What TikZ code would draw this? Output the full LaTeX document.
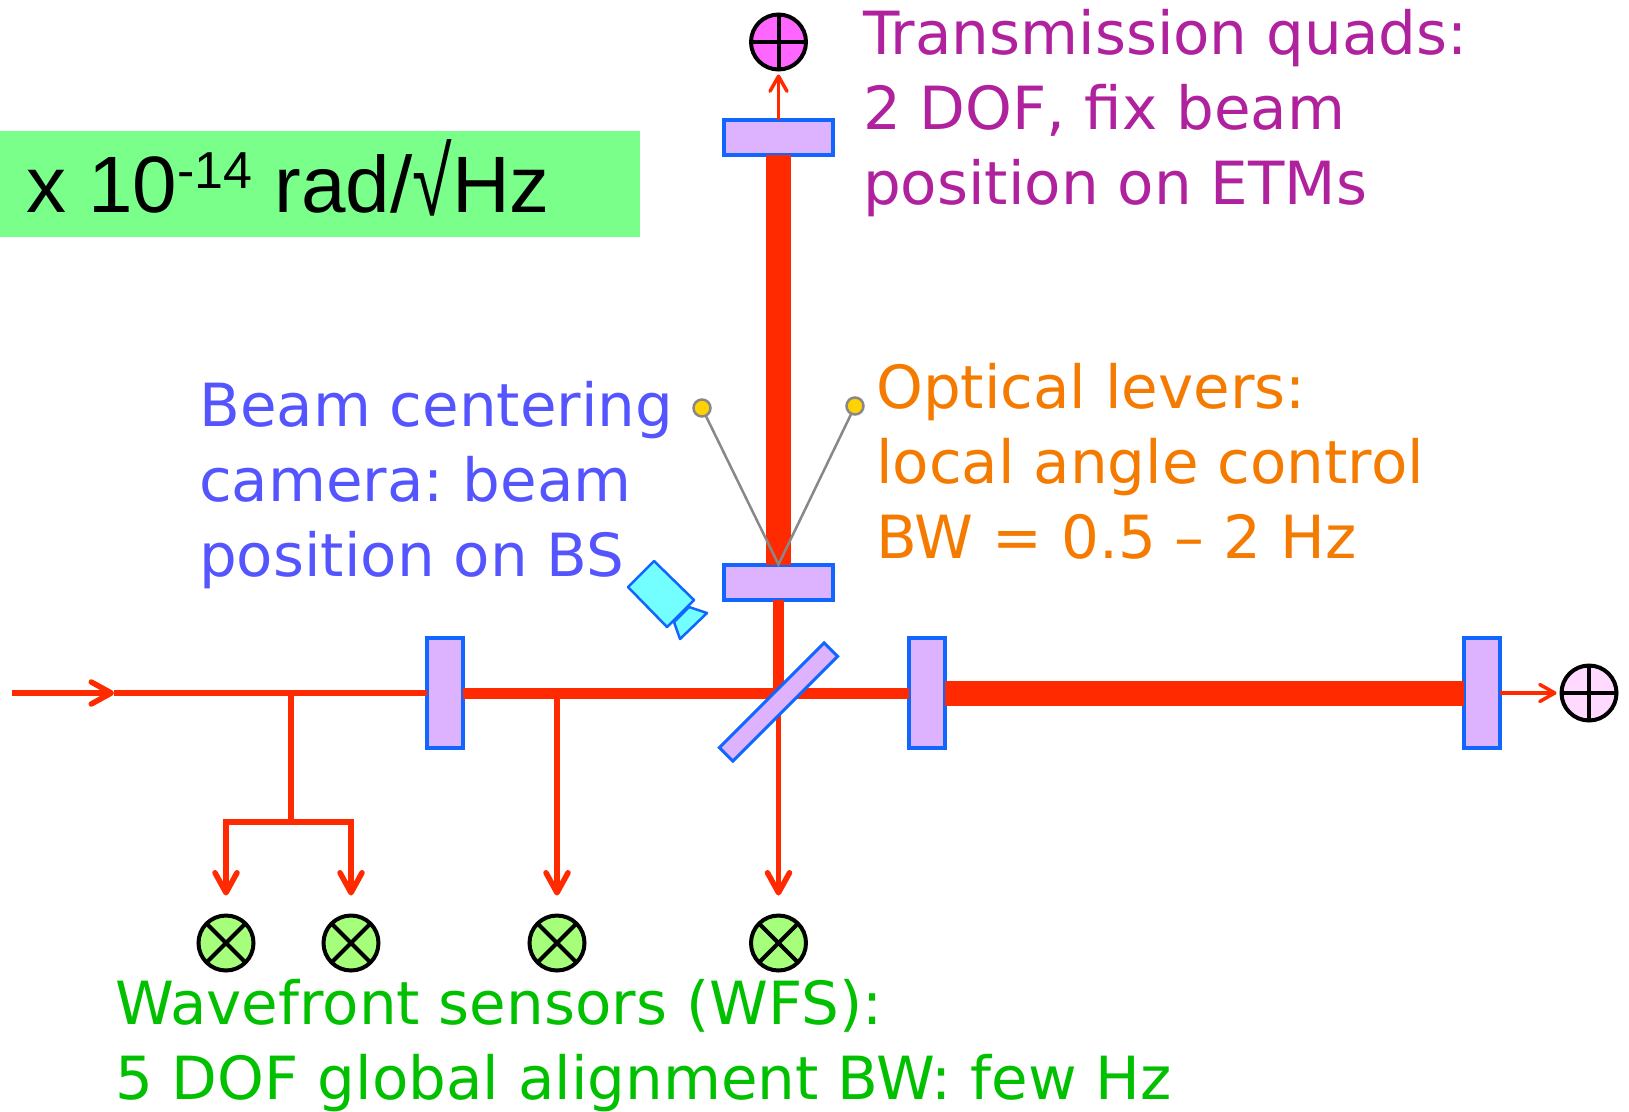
\documentclass[tikz,border=0pt]{standalone}
\usepackage{fontspec}
\usepackage{xcolor}
\usepackage{tikz}
\usetikzlibrary{arrows.meta}
\setmainfont{DejaVu Sans}
\newfontfamily\boxfont{Liberation Sans}
\definecolor{beamred}{HTML}{FF2A00}
\definecolor{edgeblue}{HTML}{1166FF}
\definecolor{mirrorfill}{HTML}{DDB3FF}
\definecolor{boxgreen}{HTML}{7AFF8A}
\definecolor{wfsfill}{HTML}{A6FF7A}
\definecolor{wfstext}{HTML}{00C000}
\definecolor{quadtext}{HTML}{B0219E}
\definecolor{camtext}{HTML}{5555FF}
\definecolor{levertext}{HTML}{F57A00}
\definecolor{camfill}{HTML}{73FFFF}
\definecolor{leverfill}{HTML}{FFD200}
\definecolor{leverline}{HTML}{888888}
\definecolor{quadyfill}{HTML}{FF66FF}
\definecolor{quadxfill}{HTML}{FFD9FF}

\begin{document}
\begin{tikzpicture}[
        x=1pt, y=-1pt,
        mirror/.style={rectangle, draw=edgeblue, fill=mirrorfill, line width=4pt, inner sep=0pt, outer sep=0pt},
        hmirror/.style={mirror, minimum width=109pt, minimum height=35pt},
        vmirror/.style={mirror, minimum width=36pt, minimum height=110pt},
        detector/.style={circle, draw=black, line width=4pt, minimum size=55pt, inner sep=0pt, outer sep=0pt},
        quad/.style={detector, path picture={
            \draw[line width=4pt] (path picture bounding box.north) -- (path picture bounding box.south);
            \draw[line width=4pt] (path picture bounding box.west) -- (path picture bounding box.east);}},
        wfs/.style={detector, fill=wfsfill, path picture={
            \draw[line width=4pt] (path picture bounding box.center) ++(-20pt,-20pt) -- ++(40pt,40pt);
            \draw[line width=4pt] (path picture bounding box.center) ++(-20pt,20pt) -- ++(40pt,-40pt);}},
        lever/.style={circle, draw=leverline, fill=leverfill, line width=2.5pt, minimum size=17pt, inner sep=0pt, outer sep=0pt},
        beam/.style={draw=beamred, line width=#1},
        beam/.default=5.5pt,
        probe/.style={beam=5.5pt, -{Straight Barb[length=20pt, width=22pt, line width=5.5pt, round]}},
        thinprobe/.style={beam=3.5pt, -{Straight Barb[length=15pt, width=17pt, line width=3.5pt, round]}},
        label/.style={anchor=base west, align=left, inner sep=0pt, font=\fontsize{59.5}{75}\selectfont\frenchspacing}
    ]
    \useasboundingbox (0,0) rectangle (1629,1111);
    \node[rectangle, fill=boxgreen, anchor=north west, minimum width=640pt, minimum height=106pt, inner sep=0pt] (unitbox) at (0,131) {};
    \node[anchor=base west, inner sep=0pt, font=\boxfont\fontsize{80}{80}\selectfont] (unit) at (26,212)
        {x 10{\fontsize{52}{52}\selectfont\raisebox{24pt}{-14}} rad/\raisebox{-3pt}{\scalebox{0.9}[1.2]{√}}Hz};

    \node[hmirror] (etmy) at (778.5,137) {};
    \node[hmirror] (itmy) at (778.5,582) {};
    \node[vmirror] (prm) at (445,693) {};
    \node[vmirror] (itmx) at (927,693) {};
    \node[vmirror] (etmx) at (1482,693) {};

    \node[quad, fill=quadyfill] (quady) at (778.5,42) {};
    \node[quad, fill=quadxfill] (quadx) at (1589,693) {};
    \node[wfs] (wfsa) at (226,943) {};
    \node[wfs] (wfsb) at (351,943) {};
    \node[wfs] (wfsc) at (557,943) {};
    \node[wfs] (wfsd) at (778.5,943) {};
    \node[lever] (levera) at (702,408) {};
    \node[lever] (leverb) at (855,406) {};

    \coordinate (input) at (12,693);
    \coordinate (tip) at (114,693);
    \coordinate (tap) at (291,693);
    \coordinate (fork) at (291,822);
    \coordinate (pick) at (557,693);

    \draw[beam=25pt] (etmy) -- (itmy);
    \draw[beam=11pt] (itmy) -- (wfsd.north |- itmx);
    \draw[beam=11pt] (prm) -- (itmx);
    \draw[beam=25pt] (itmx) -- (etmx);
    \draw[probe] (input) -- (tip);
    \draw[beam] (tip) -- (prm);
    \draw[beam] (tap) -- (fork);
    \draw[probe] (fork) -| ([yshift=20pt]wfsa.north);
    \draw[probe] (fork) -| ([yshift=20pt]wfsb.north);
    \draw[probe] (pick) -- ([yshift=20pt]wfsc.north);
    \draw[probe] (itmy |- itmx) -- ([yshift=20pt]wfsd.north);
    \draw[thinprobe] (etmy) -- ([yshift=-5pt]quady.south);
    \draw[thinprobe] (etmx) -- ([xshift=-5pt]quadx.west);
    \draw[leverline, line width=2.5pt] (levera) -- (itmy.north) -- (leverb);

    \node[rectangle, draw=edgeblue, fill=mirrorfill, line width=3pt, rotate=45, minimum width=148pt, minimum height=19pt, inner sep=0pt] (bs) at (778.5,702) {};
    \draw[draw=edgeblue, fill=camfill, line width=2.5pt, line join=round] (654,561) -- (694,600) -- (667,627) -- (628,587) -- cycle;
    \draw[draw=edgeblue, fill=camfill, line width=2.5pt, line join=round] (689,607) -- (707,613) -- (680,639) -- (674,622) -- cycle;

    \node[label, text=quadtext] (quadlabel) at (863,204) {Transmission quads:\\2 DOF, fix beam\\position on ETMs};
    \node[label, text=camtext] (camlabel) at (199,576) {Beam centering\\camera: beam\\position on BS};
    \node[label, text=levertext] (leverlabel) at (876,558) {Optical levers:\\local angle control\\BW = 0.5 – 2 Hz};
    \node[label, text=wfstext] (wfslabel) at (115,1099) {Wavefront sensors (WFS):\\5 DOF global alignment BW: few Hz};
\end{tikzpicture}
\end{document}
